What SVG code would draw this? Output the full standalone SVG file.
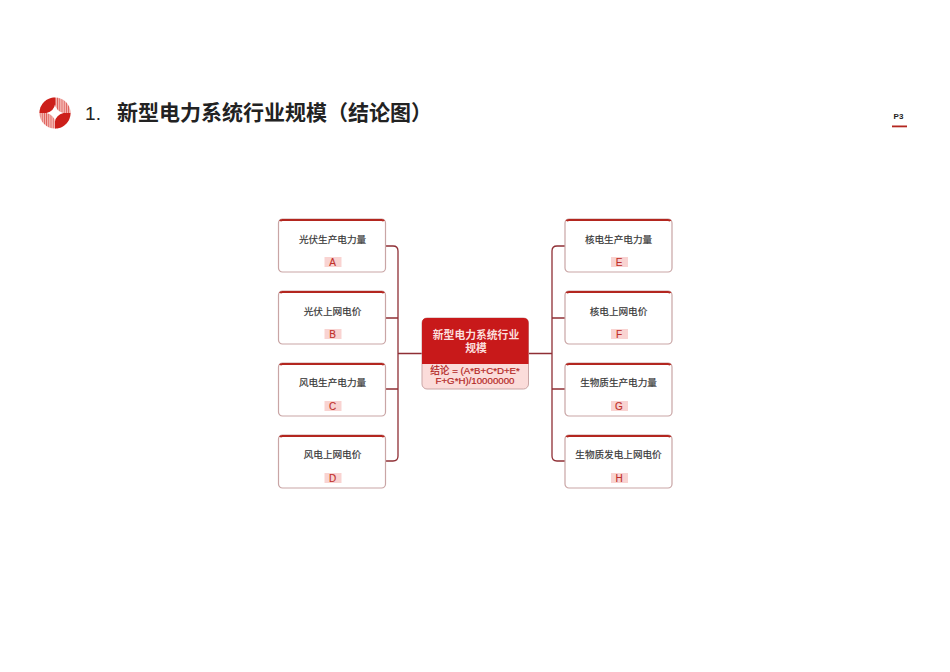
<svg xmlns="http://www.w3.org/2000/svg" width="950" height="672" viewBox="0 0 950 672">
<defs>
<style>
text{font-family:"Liberation Sans","Noto Sans CJK SC",sans-serif;text-anchor:middle}
.box{fill:#fff;stroke:#c9a5a5;stroke-width:1.2}
.top{fill:none;stroke:#b3261f;stroke-width:2.2}
.lab{font-size:9.600px;fill:#3a3a3a;stroke:#3a3a3a;stroke-width:.2}
.tag{fill:#f9d3d1}
.let{font-size:10px;fill:#c0302a;stroke:#c0302a;stroke-width:.15}
.con{fill:none;stroke:#8f2f35;stroke-width:1.3}
</style>
<pattern id="st" width="2.2" height="4" patternUnits="userSpaceOnUse"><rect width="2.2" height="4" fill="#f4b8b4"/><rect width="0.8" height="4" fill="#dc5a54"/></pattern>
<g id="card"><rect class="box" x="0" y="0" width="107" height="53" rx="4"/><path class="top" d="M1.500 2Q2 1 4 1H103Q105 1 105.500 2"/><rect class="tag" x="46" y="38" width="17" height="10"/></g>
</defs>
<rect width="950" height="672" fill="#fff"/>
<g id="logo">
<circle cx="55" cy="113" r="15.5" fill="url(#st)"/>
<path d="M55 97.5A15.5 15.5 0 0 0 39.500 113H49Q54 111 55 107Z" fill="#cc1f1a"/>
<path d="M55 128.500A15.500 15.500 0 0 0 70.500 113H61Q56 115 55 119Z" fill="#cc1f1a"/>
<path d="M55 104.500Q56 111 63.500 113Q56 115 55 121.500Q54 115 46.500 113Q54 111 55 104.500Z" fill="#fff"/>
</g>
<text x="93" y="120" style="font-size:19px;fill:#222">1.</text>
<text x="274.500" y="120" style="font-size:21px;font-weight:700;fill:#222">新型电力系统行业规模（结论图）</text>
<text x="898.500" y="119" style="font-size:8px;font-weight:700;fill:#222">P3</text>
<rect x="892" y="125.500" width="15" height="1.800" fill="#b3261f"/>
<g id="connectors" class="con">
<path class="con" d="M385.500 246H393Q398 246 398 251V456Q398 461 393 461H385.500M385.500 318H398M385.500 389H398M398 353.500H422"/>
<path class="con" d="M565 246H557Q552 246 552 251V456Q552 461 557 461H565M565 318H552M565 389H552M552 353.500H528"/>
</g>
<g id="center">
<rect x="422" y="318" width="106.500" height="71" rx="5" fill="#fbdcda" stroke="#c9a5a5"/>
<path d="M422 364V323Q422 318 427 318H523.500Q528.500 318 528.500 323V364Z" fill="#c8191a"/>
<text x="476" y="339" style="font-size:10.800px;font-weight:700;fill:#fbdedc">新型电力系统行业</text>
<text x="476" y="352" style="font-size:10.800px;font-weight:700;fill:#fbdedc">规模</text>
<text x="475" y="374" style="font-size:9.700px;fill:#b3261f;stroke:#b3261f;stroke-width:.2">结论 = (A*B+C*D+E*</text>
<text x="475" y="384" style="font-size:9.700px;fill:#b3261f;stroke:#b3261f;stroke-width:.2">F+G*H)/10000000</text>
</g>
<g id="n-a"><use href="#card" x="278.500" y="219"/><text class="lab" x="332.500" y="243">光伏生产电力量</text><text class="let" x="332.500" y="265.500">A</text></g>
<g id="n-b"><use href="#card" x="278.500" y="291"/><text class="lab" x="332.500" y="315">光伏上网电价</text><text class="let" x="332.500" y="337.500">B</text></g>
<g id="n-c"><use href="#card" x="278.500" y="363"/><text class="lab" x="332.500" y="386">风电生产电力量</text><text class="let" x="332.500" y="409.500">C</text></g>
<g id="n-d"><use href="#card" x="278.500" y="435"/><text class="lab" x="332.500" y="458">风电上网电价</text><text class="let" x="332.500" y="481.500">D</text></g>
<g id="n-e"><use href="#card" x="565" y="219"/><text class="lab" x="618.500" y="243">核电生产电力量</text><text class="let" x="619" y="265.500">E</text></g>
<g id="n-f"><use href="#card" x="565" y="291"/><text class="lab" x="618.500" y="315">核电上网电价</text><text class="let" x="619" y="337.500">F</text></g>
<g id="n-g"><use href="#card" x="565" y="363"/><text class="lab" x="618.500" y="386">生物质生产电力量</text><text class="let" x="619" y="409.500">G</text></g>
<g id="n-h"><use href="#card" x="565" y="435"/><text class="lab" x="618.500" y="458">生物质发电上网电价</text><text class="let" x="619" y="481.500">H</text></g>
</svg>
